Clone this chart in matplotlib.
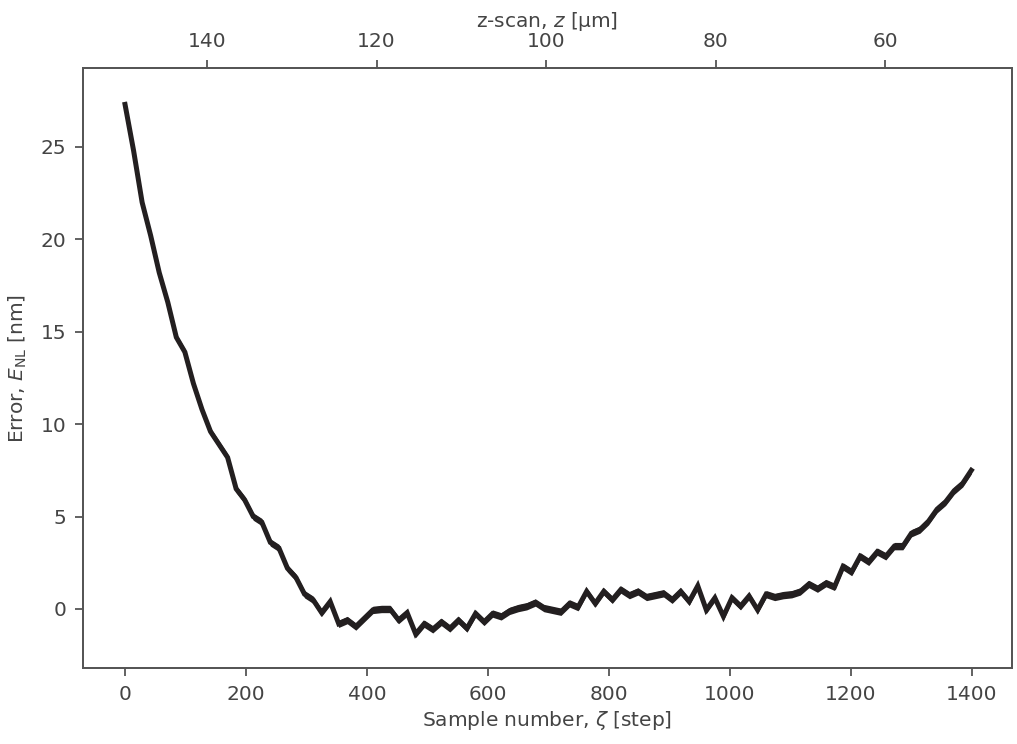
import numpy as np
import matplotlib
matplotlib.use('Agg')
import matplotlib.pyplot as plt

# サンプル番号 (step)
sample = np.arange(100) * 14.13

# 誤差 E_NL [nm] (帯の中心)
error = [27.3, 24.8, 22.0, 20.2, 18.2, 16.6, 14.7, 13.9, 12.2, 10.8,
         9.6, 8.9, 8.2, 6.5, 5.9, 5.0, 4.7, 3.6, 3.3, 2.2,
         1.7, 0.8, 0.5, -0.2, 0.4, -0.8, -0.6, -0.95, -0.5, -0.05,
         0.0, 0.0, -0.6, -0.2, -1.35, -0.8, -1.1, -0.7, -1.05, -0.6,
         -1.05, -0.25, -0.7, -0.25, -0.4, -0.1, 0.05, 0.15, 0.35, 0.05,
         -0.05, -0.15, 0.3, 0.1, 0.95, 0.3, 0.95, 0.5, 1.05, 0.75,
         0.95, 0.65, 0.75, 0.85, 0.5, 0.95, 0.4, 1.25, -0.05, 0.6,
         -0.4, 0.6, 0.15, 0.7, -0.05, 0.8, 0.65, 0.75, 0.8, 0.95,
         1.35, 1.1, 1.4, 1.2, 2.3, 2.0, 2.85, 2.55, 3.1, 2.85,
         3.4, 3.4, 4.1, 4.3, 4.75, 5.4, 5.8, 6.4, 6.8, 7.5]

# 帯の半幅 [nm]
half_width = 0.2

# z-scan 換算 (z = z0 - dz * zeta)
z0 = 149.67
dz = 1 / 14.01

gray = '#444444'
plt.rcParams['font.family'] = 'DejaVu Sans'
plt.rcParams['font.size'] = 14.5
plt.rcParams['text.color'] = gray
plt.rcParams['axes.labelcolor'] = gray
plt.rcParams['xtick.color'] = '#555555'
plt.rcParams['ytick.color'] = '#555555'
plt.rcParams['xtick.labelcolor'] = gray
plt.rcParams['ytick.labelcolor'] = gray

fig = plt.figure(figsize=(10.17, 7.44), dpi=100)
ax = fig.add_axes([0.0816, 0.102, 0.9134, 0.8066])

err = np.array(error)
col = '#231f20'
ax.fill_between(sample, err - half_width, err + half_width, color=col, lw=0)
ax.plot(sample, err, color=col, lw=3.6, solid_joinstyle='miter')

ax.set_xlim(-69.5, 1466)
ax.set_ylim(-3.2, 29.27)
ax.set_xlabel(r'Sample number, $\zeta$ [step]', labelpad=4)
ax.set_ylabel(r'Error, $E_{\mathrm{NL}}$ [nm]', labelpad=8)
ax.set_xticks([0, 200, 400, 600, 800, 1000, 1200, 1400])
ax.set_yticks([0, 5, 10, 15, 20, 25])

for s in ax.spines.values():
    s.set_color('#555555')
    s.set_linewidth(1.3)
ax.tick_params(length=6, width=1.3, pad=6)

# 上側の軸: z-scan
ax2 = ax.twiny()
x0, x1 = ax.get_xlim()
ax2.set_xlim(z0 - dz * x0, z0 - dz * x1)
ax2.set_xticks([140, 120, 100, 80, 60])
ax2.set_xlabel(r'z-scan, $z$ [µm]', labelpad=4)
ax2.tick_params(length=6, width=1.3, pad=6)
for s in ax2.spines.values():
    s.set_color('#555555')
    s.set_linewidth(1.3)

fig.savefig('out.png', dpi=100)
